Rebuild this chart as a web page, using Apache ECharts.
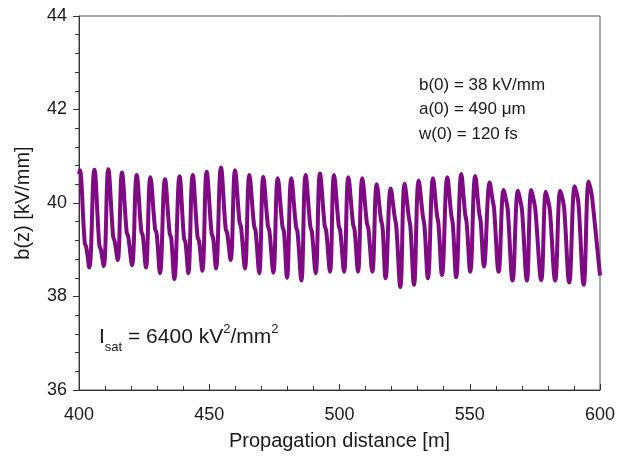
<!DOCTYPE html>
<html>
<head>
<meta charset="utf-8">
<script src="https://cdn.jsdelivr.net/npm/echarts@6/dist/echarts.min.js"></script>
<style>
html,body{margin:0;padding:0;background:#fff;}
#chart{width:621px;height:462px;}
</style>
</head>
<body>
<div id="chart"></div>
<script>
// Propagation distance [m] (per cycle: peak, shoulder start, shoulder end, trough)
const distance = [
  400.0,
  400.3, 402.2, 402.8, 403.95,
  405.9, 407.8, 408.4, 409.5,
  411.25, 413.1, 413.7, 414.85,
  416.5, 418.3, 418.9, 420.35,
  422.15, 423.9, 424.5, 425.7,
  427.4, 429.2, 429.8, 431.1,
  433.0, 434.8, 435.4, 436.6,
  438.6, 440.3, 440.9, 441.95,
  443.65, 445.5, 446.1, 447.35,
  449.0, 450.9, 451.5, 452.6,
  454.5, 456.3, 456.9, 458.2,
  459.9, 461.6, 462.2, 463.7,
  465.4, 467.2, 467.8, 469.2,
  470.75, 472.5, 473.1, 474.6,
  476.3, 478.1, 478.7, 479.85,
  481.5, 483.3, 483.9, 485.35,
  487.0, 488.8, 489.4, 490.85,
  492.5, 494.3, 494.9, 496.35,
  497.9, 499.7, 500.3, 501.75,
  503.4, 505.2, 505.8, 507.1,
  508.75, 510.5, 511.1, 512.6,
  514.3, 515.9, 516.5, 517.7,
  519.65, 521.2, 521.8, 523.35,
  525.0, 526.6, 527.2, 528.6,
  530.4, 532.0, 532.6, 533.95,
  535.9, 537.4, 538.0, 539.35,
  541.4, 542.9, 543.5, 544.8,
  546.75, 548.2, 548.8, 550.2,
  552.1, 553.6, 554.2, 555.45,
  557.65, 558.8, 559.3, 561.1,
  563.0, 564.1, 564.6, 566.45,
  568.5, 569.6, 570.1, 571.95,
  573.6, 574.7, 575.2, 577.45,
  579.25, 580.3, 580.8, 582.8,
  584.75, 585.8, 586.3, 588.2,
  590.3, 591.3, 591.8, 593.75,
  595.65, 596.6, 597.1, 600.0
];
// b(z) [kV/mm]
const bField = [
  40.62,
  40.70, 39.15, 39.05, 38.62,
  40.71, 39.10, 39.00, 38.65,
  40.72, 39.28, 39.18, 38.78,
  40.65, 39.38, 39.28, 38.67,
  40.60, 39.40, 39.30, 38.62,
  40.55, 39.45, 39.35, 38.50,
  40.51, 39.35, 39.25, 38.37,
  40.57, 39.25, 39.15, 38.50,
  40.60, 39.28, 39.18, 38.55,
  40.67, 39.35, 39.25, 38.60,
  40.76, 39.45, 39.35, 38.78,
  40.70, 39.60, 39.48, 38.60,
  40.60, 39.52, 39.40, 38.50,
  40.56, 39.52, 39.40, 38.51,
  40.53, 39.50, 39.38, 38.40,
  40.53, 39.50, 39.38, 38.34,
  40.60, 39.50, 39.38, 38.50,
  40.63, 39.52, 39.40, 38.53,
  40.60, 39.52, 39.40, 38.53,
  40.55, 39.55, 39.42, 38.53,
  40.53, 39.58, 39.45, 38.53,
  40.40, 39.65, 39.50, 38.39,
  40.31, 39.70, 39.50, 38.20,
  40.41, 39.70, 39.50, 38.25,
  40.48, 39.72, 39.52, 38.39,
  40.53, 39.75, 39.55, 38.46,
  40.55, 39.75, 39.55, 38.41,
  40.62, 39.78, 39.58, 38.53,
  40.58, 39.80, 39.60, 38.64,
  40.44, 40.05, 39.90, 38.53,
  40.28, 40.02, 39.85, 38.34,
  40.26, 40.00, 39.82, 38.34,
  40.28, 40.02, 39.85, 38.35,
  40.24, 40.00, 39.82, 38.34,
  40.26, 40.05, 39.85, 38.30,
  40.36, 40.15, 39.95, 38.25,
  40.46, 40.25, 40.05, 38.45
];
const xTicks = [400, 450, 500, 550, 600];
const yTicks = [36, 38, 40, 42, 44];
const paramLines = ['b(0) = 38 kV/mm', 'a(0) = 490 \u03bcm', 'w(0) = 120 fs'];

const points = distance.map((d, i) => [d, bField[i]]);
const chart = echarts.init(document.getElementById('chart'), null, {renderer: 'canvas'});
const FONT = 'Liberation Sans, Arial, sans-serif';
const axisCommon = {
  axisLine: {show: true, lineStyle: {color: '#333', width: 1}},
  splitLine: {show: false},
  axisLabel: {color: '#1a1a1a', fontSize: 18, fontFamily: FONT},
  nameTextStyle: {color: '#1a1a1a', fontSize: 20, fontFamily: FONT}
};
chart.setOption({
  animation: false,
  backgroundColor: '#fff',
  grid: {left: 79, right: 21, top: 16, bottom: 72, show: true, borderColor: '#555', borderWidth: 1,
         containLabel: false, outerBoundsMode: 'none'},
  xAxis: Object.assign({}, axisCommon, {
    type: 'value', min: xTicks[0], max: xTicks[xTicks.length - 1], interval: 50,
    name: 'Propagation distance [m]', nameLocation: 'middle', nameGap: 41,
    axisTick: {show: true, inside: true, length: 6, lineStyle: {color: '#333'}},
    minorTick: {show: true, splitNumber: 5, length: 4, lineStyle: {color: '#333'}},
    axisLabel: Object.assign({}, axisCommon.axisLabel, {margin: 16})
  }),
  yAxis: Object.assign({}, axisCommon, {
    type: 'value', min: yTicks[0], max: yTicks[yTicks.length - 1], interval: 2,
    name: 'b(z) [kV/mm]', nameLocation: 'middle', nameGap: 46,
    axisTick: {show: true, inside: false, length: 6, lineStyle: {color: '#333'}},
    minorTick: {show: true, splitNumber: 5, length: 4, lineStyle: {color: '#333'}},
    axisLabel: Object.assign({}, axisCommon.axisLabel, {margin: 12})
  }),
  series: [{
    type: 'line', data: points, showSymbol: false, smooth: 0.4,
    lineStyle: {color: '#800a84', width: 4},
    clip: true
  }],
  graphic: [
    {type: 'text', left: 419, top: 73, style: {text: paramLines.join('\n'), font: '17px ' + FONT, fill: '#1a1a1a', lineHeight: 24.5}},
    {type: 'text', left: 99, top: 320, style: {
      text: '{m|I}{sub|sat}{m| = 6400 kV}{sup|2}{m|/mm}{sup|2}',
      rich: {
        m: {fontSize: 21, fontFamily: FONT, fill: '#1a1a1a', lineHeight: 34, verticalAlign: 'middle'},
        sub: {fontSize: 13, fontFamily: FONT, fill: '#1a1a1a', lineHeight: 34, verticalAlign: 'bottom'},
        sup: {fontSize: 13, fontFamily: FONT, fill: '#1a1a1a', lineHeight: 34, verticalAlign: 'top', padding: [3, 0, 0, 0]}
      }
    }}
  ]
});
</script>
</body>
</html>
